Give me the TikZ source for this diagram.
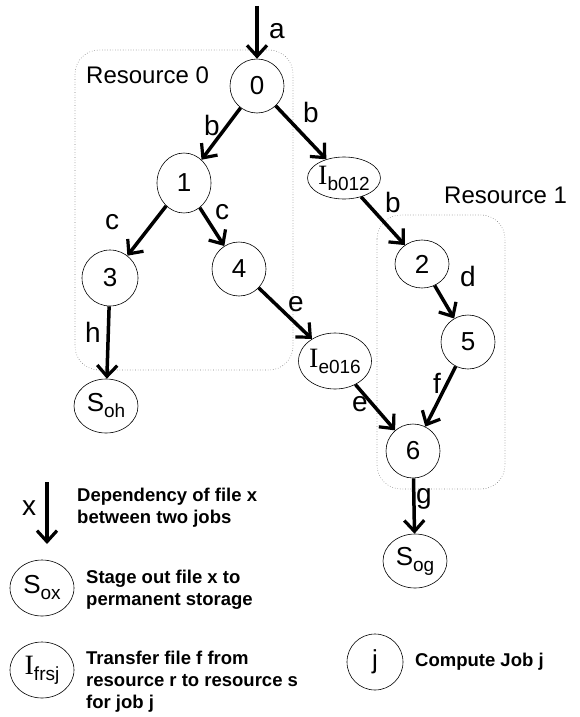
\documentclass[tikz,border=0pt]{standalone}
\usepackage{fontspec}
\setmainfont{Liberation Sans}
\newfontfamily\serifI{Liberation Serif}
\usetikzlibrary{shapes.geometric,arrows.meta}
\newcommand\subtxt[1]{\raisebox{-6pt}{\fontsize{19}{19}\selectfont #1}}
\newcommand\Inode[1]{{\serifI\fontsize{28}{28}\selectfont I}\subtxt{#1}}
\newcommand\Snode[1]{{\fontsize{26}{26}\selectfont S}\subtxt{#1}}
\tikzset{
  job/.style={draw, ellipse, inner sep=0pt, line width=0.6pt, font=\fontsize{26}{28}\selectfont},
  dep/.style={line width=3.5pt, -{Straight Barb[length=11pt,width=20pt,line width=3.2pt]}},
  lbl/.style={font=\fontsize{28}{30}\selectfont, inner sep=0pt},
  reslbl/.style={font=\fontsize{24}{26}\selectfont, inner sep=0pt, anchor=west},
  resbox/.style={draw=gray, dotted, line width=0.6pt, rounded corners=24pt},
  legtxt/.style={font=\fontsize{18.5}{22}\selectfont\bfseries, align=left, anchor=west, inner sep=0pt},
}
\begin{document}
\begin{tikzpicture}[x=1pt,y=-1pt]
\useasboundingbox (0,0) rectangle (580,717);
% resource boxes
\draw[resbox] (75,50) rectangle (293,370);
\draw[resbox] (377,215) rectangle (505,489);
\node[reslbl] (r0) at (86,75) {Resource 0};
\node[reslbl] (r1) at (444,195) {Resource 1};
% nodes
\node[job, minimum width=54pt, minimum height=54pt] (n0) at (257,86) {0};
\node[job, minimum width=54pt, minimum height=60pt] (n1) at (184,183) {1};
\node[job, minimum width=56pt, minimum height=56pt] (n3) at (110,278) {3};
\node[job, minimum width=54pt, minimum height=54pt] (n4) at (239,269) {4};
\node[job, minimum width=64pt, minimum height=54pt] (soh) at (106,406) {\Snode{oh}};
\node[job, minimum width=64pt, minimum height=42pt] (ib) at (344,178) {\Inode{b012}};
\node[job, minimum width=64pt, minimum height=56pt] (ie) at (335,361) {\Inode{e016}};
\node[job, minimum width=54pt, minimum height=48pt] (n2) at (422,264) {2};
\node[job, minimum width=54pt, minimum height=54pt] (n5) at (468,342) {5};
\node[job, minimum width=54pt, minimum height=54pt] (n6) at (413,451) {6};
\node[job, minimum width=64pt, minimum height=54pt] (sog) at (415,561) {\Snode{og}};
\coordinate (top) at (257,6);
% edges
\draw[dep] (top) -- (n0);
\draw[dep] (n0) -- (n1);
\draw[dep] (n0) -- (ib);
\draw[dep] (n1) -- (n3);
\draw[dep] (n1) -- (n4);
\draw[dep] (n3) -- (soh);
\draw[dep] (n4) -- (ie);
\draw[dep] (ib) -- (n2);
\draw[dep] (n2) -- (n5);
\draw[dep] (ie) -- (n6);
\draw[dep] (n5) -- (n6);
\draw[dep] (n6) -- (sog);
% edge labels
\node[lbl] (la) at (277,31) {a};
\node[lbl] (lb1) at (212,125) {b};
\node[lbl] (lb2) at (311,112) {b};
\node[lbl] (lc1) at (112,222) {c};
\node[lbl] (lc2) at (222,212) {c};
\node[lbl] (lh) at (93,332) {h};
\node[lbl] (le1) at (296,304) {e};
\node[lbl] (lb3) at (393,202) {b};
\node[lbl] (ld) at (468,276) {d};
\node[lbl] (lf) at (437,383) {f};
\node[lbl] (le2) at (360,404) {e};
\node[lbl] (lg) at (424,499) {g};
% legend
\coordinate (lt) at (47,482);
\coordinate (lbot) at (47,544);
\draw[dep] (lt) -- (lbot);
\node[lbl] (lx) at (29,508) {x};
\node[legtxt] (t1) at (77,508) {Dependency of file x\\between two jobs};
\node[job, minimum width=64pt, minimum height=56pt] (sox) at (42,588) {\Snode{ox}};
\node[legtxt] (t2) at (86,590) {Stage out file x to\\permanent storage};
\node[job, minimum width=64pt, minimum height=56pt] (ifr) at (42,670) {\Inode{frsj}};
\node[legtxt] (t3) at (86,682) {Transfer file f from\\resource r to resource s\\for job j};
\node[job, minimum width=56pt, minimum height=56pt] (jj) at (375,662) {j};
\node[legtxt] (t4) at (415,662) {Compute Job j};
\end{tikzpicture}
\end{document}
